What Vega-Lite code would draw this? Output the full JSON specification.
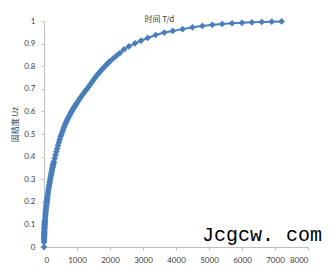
{
  "$schema": "https://vega.github.io/schema/vega-lite/v6.json",
  "autosize": "none",
  "width": 264,
  "height": 226,
  "padding": {"left": 44, "top": 21, "right": 23, "bottom": 26},
  "background": "white",
  "title": {
    "text": "Jcgcw. com",
    "orient": "bottom",
    "anchor": "end",
    "frame": "group",
    "font": "Liberation Mono",
    "fontSize": 20,
    "fontWeight": "normal",
    "color": "#000000",
    "offset": -39,
    "dx": 14
  },
  "data": {
    "values": [
      {"t": 0, "U": 0},
      {"t": 1, "U": 0.0218},
      {"t": 2, "U": 0.0308},
      {"t": 3, "U": 0.0378},
      {"t": 4, "U": 0.0436},
      {"t": 5, "U": 0.0487},
      {"t": 6, "U": 0.0534},
      {"t": 7, "U": 0.0577},
      {"t": 8, "U": 0.0617},
      {"t": 9, "U": 0.0654},
      {"t": 10, "U": 0.0689},
      {"t": 12, "U": 0.0755},
      {"t": 14, "U": 0.0816},
      {"t": 16, "U": 0.0872},
      {"t": 18, "U": 0.0925},
      {"t": 20, "U": 0.0975},
      {"t": 22, "U": 0.1022},
      {"t": 24, "U": 0.1068},
      {"t": 26, "U": 0.1112},
      {"t": 28, "U": 0.1154},
      {"t": 30, "U": 0.1194},
      {"t": 35, "U": 0.129},
      {"t": 40, "U": 0.1379},
      {"t": 45, "U": 0.1462},
      {"t": 50, "U": 0.1542},
      {"t": 55, "U": 0.1617},
      {"t": 60, "U": 0.1689},
      {"t": 65, "U": 0.1758},
      {"t": 70, "U": 0.1824},
      {"t": 75, "U": 0.1888},
      {"t": 80, "U": 0.195},
      {"t": 85, "U": 0.201},
      {"t": 90, "U": 0.2068},
      {"t": 95, "U": 0.2125},
      {"t": 100, "U": 0.218},
      {"t": 110, "U": 0.2286},
      {"t": 120, "U": 0.2388},
      {"t": 130, "U": 0.2486},
      {"t": 140, "U": 0.2579},
      {"t": 150, "U": 0.267},
      {"t": 160, "U": 0.2758},
      {"t": 170, "U": 0.2842},
      {"t": 180, "U": 0.2925},
      {"t": 190, "U": 0.3005},
      {"t": 200, "U": 0.3083},
      {"t": 210, "U": 0.3159},
      {"t": 220, "U": 0.3234},
      {"t": 230, "U": 0.3306},
      {"t": 240, "U": 0.3377},
      {"t": 250, "U": 0.3447},
      {"t": 260, "U": 0.3515},
      {"t": 270, "U": 0.3582},
      {"t": 280, "U": 0.3648},
      {"t": 290, "U": 0.3712},
      {"t": 300, "U": 0.3776},
      {"t": 325, "U": 0.393},
      {"t": 350, "U": 0.4078},
      {"t": 375, "U": 0.4222},
      {"t": 400, "U": 0.436},
      {"t": 425, "U": 0.4494},
      {"t": 450, "U": 0.4624},
      {"t": 475, "U": 0.4751},
      {"t": 500, "U": 0.4875},
      {"t": 525, "U": 0.497},
      {"t": 550, "U": 0.507},
      {"t": 575, "U": 0.518},
      {"t": 600, "U": 0.528},
      {"t": 625, "U": 0.537},
      {"t": 650, "U": 0.546},
      {"t": 675, "U": 0.554},
      {"t": 700, "U": 0.562},
      {"t": 725, "U": 0.569},
      {"t": 750, "U": 0.576},
      {"t": 775, "U": 0.583},
      {"t": 800, "U": 0.59},
      {"t": 825, "U": 0.597},
      {"t": 850, "U": 0.603},
      {"t": 875, "U": 0.609},
      {"t": 900, "U": 0.615},
      {"t": 925, "U": 0.621},
      {"t": 950, "U": 0.627},
      {"t": 975, "U": 0.633},
      {"t": 1000, "U": 0.638},
      {"t": 1050, "U": 0.649},
      {"t": 1100, "U": 0.66},
      {"t": 1150, "U": 0.67},
      {"t": 1200, "U": 0.68},
      {"t": 1250, "U": 0.69},
      {"t": 1300, "U": 0.699},
      {"t": 1350, "U": 0.709},
      {"t": 1400, "U": 0.719},
      {"t": 1450, "U": 0.729},
      {"t": 1500, "U": 0.739},
      {"t": 1550, "U": 0.749},
      {"t": 1600, "U": 0.759},
      {"t": 1650, "U": 0.768},
      {"t": 1700, "U": 0.776},
      {"t": 1750, "U": 0.784},
      {"t": 1800, "U": 0.792},
      {"t": 1850, "U": 0.8},
      {"t": 1900, "U": 0.807},
      {"t": 1950, "U": 0.815},
      {"t": 2000, "U": 0.822},
      {"t": 2100, "U": 0.835},
      {"t": 2200, "U": 0.847},
      {"t": 2300, "U": 0.858},
      {"t": 2424, "U": 0.874},
      {"t": 2576, "U": 0.888},
      {"t": 2758, "U": 0.901},
      {"t": 2940, "U": 0.913},
      {"t": 3142, "U": 0.925},
      {"t": 3385, "U": 0.938},
      {"t": 3645, "U": 0.949},
      {"t": 3900, "U": 0.956},
      {"t": 4200, "U": 0.964},
      {"t": 4500, "U": 0.972},
      {"t": 4800, "U": 0.978},
      {"t": 5100, "U": 0.983},
      {"t": 5400, "U": 0.987},
      {"t": 5700, "U": 0.99},
      {"t": 6000, "U": 0.992},
      {"t": 6300, "U": 0.994},
      {"t": 6600, "U": 0.996},
      {"t": 6900, "U": 0.997},
      {"t": 7200, "U": 0.998}
    ]
  },
  "mark": {
    "type": "line",
    "color": "#4a7ebb",
    "strokeWidth": 2,
    "point": {"shape": "diamond", "size": 45, "filled": true, "color": "#4a7ebb", "opacity": 1}
  },
  "encoding": {
    "x": {
      "field": "t",
      "type": "quantitative",
      "scale": {"domain": [0, 8000], "nice": false, "zero": true},
      "axis": {
        "title": "时间 T/d",
        "titleFont": "Noto Sans CJK SC",
        "titleFontSize": 8,
        "titleFontWeight": "normal",
        "titleColor": "#404040",
        "titleAnchor": "start",
        "titleAlign": "left",
        "titleBaseline": "middle",
        "titleX": 100,
        "titleY": -228,
        "values": [0, 1000, 2000, 3000, 4000, 5000, 6000, 7000, 8000],
        "format": "d",
        "grid": false,
        "domainColor": "#bfbfbf",
        "tickColor": "#bfbfbf",
        "tickSize": 3,
        "labelPadding": 6,
        "labelFont": "Lato",
        "labelFontSize": 8,
        "labelColor": "#404040"
      }
    },
    "y": {
      "field": "U",
      "type": "quantitative",
      "scale": {"domain": [0, 1], "nice": false},
      "axis": {
        "title": "固结度 Uz",
        "titleFont": "Noto Sans CJK SC",
        "titleFontSize": 8,
        "titleFontWeight": "normal",
        "titleColor": "#404040",
        "titleAngle": 270,
        "titleAlign": "center",
        "titleBaseline": "middle",
        "titleX": -29,
        "titleY": 103,
        "values": [0, 0.1, 0.2, 0.3, 0.4, 0.5, 0.6, 0.7, 0.8, 0.9, 1],
        "format": "~g",
        "grid": false,
        "domainColor": "#bfbfbf",
        "tickColor": "#bfbfbf",
        "tickSize": 3,
        "labelPadding": 6,
        "labelFont": "Lato",
        "labelFontSize": 8,
        "labelColor": "#404040"
      }
    }
  },
  "config": {"view": {"stroke": null}}
}
